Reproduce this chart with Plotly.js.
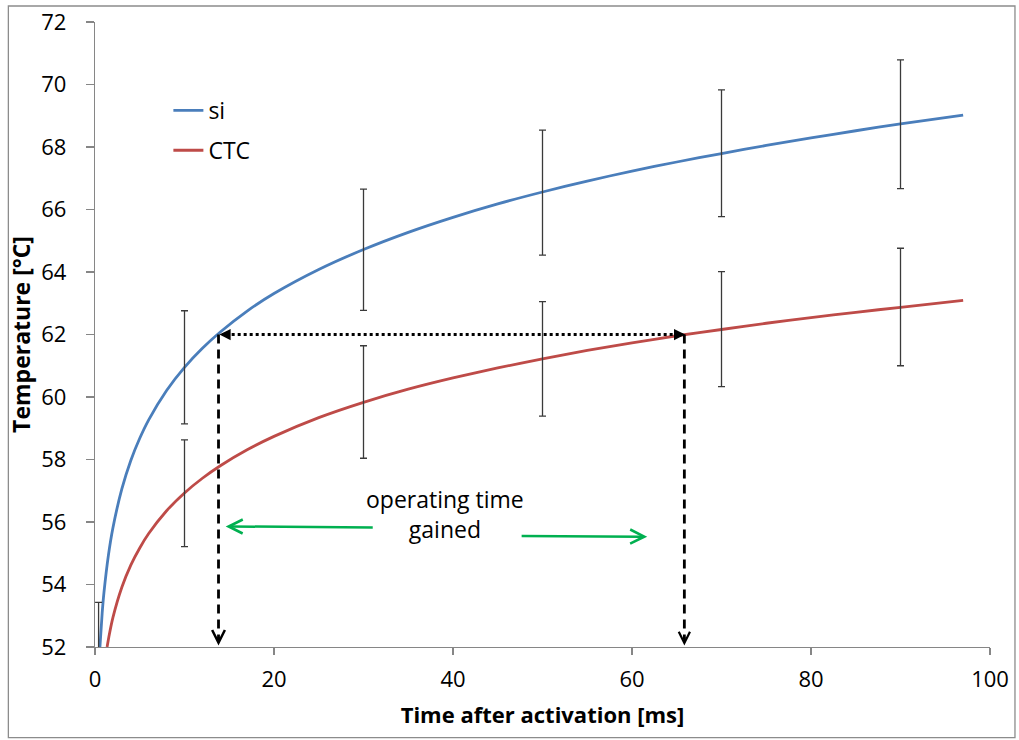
<!DOCTYPE html>
<html>
<head>
<meta charset="utf-8">
<script src="https://cdn.plot.ly/plotly-3.0.1.min.js"></script>
<style>
html,body{margin:0;padding:0;background:#fff;}
#chart{width:1019px;height:740px;}
</style>
</head>
<body>
<div id="chart"></div>
<script>
// Trend curves
var siX  = [0.55, 0.8, 1, 1.5, 2, 3, 4, 5, 6, 8, 10, 12, 14, 17, 20, 25, 30, 35, 40, 45, 50, 55, 60, 65, 70, 75, 80, 85, 90, 97];
var siY  = [52.0, 53.08, 53.74, 54.94, 55.81, 57.06, 57.97, 58.68, 59.27, 60.21, 60.95, 61.56, 62.08, 62.75, 63.31, 64.08, 64.72, 65.27, 65.75, 66.18, 66.56, 66.91, 67.23, 67.52, 67.79, 68.05, 68.29, 68.52, 68.74, 69.02];
var ctcX = [1.35, 1.6, 2, 3, 4, 5, 6, 8, 10, 12, 14, 17, 20, 25, 30, 35, 40, 45, 50, 55, 60, 65, 70, 75, 80, 85, 90, 97];
var ctcY = [52.0, 52.40, 52.94, 53.91, 54.62, 55.17, 55.63, 56.36, 56.93, 57.40, 57.80, 58.31, 58.74, 59.34, 59.83, 60.25, 60.61, 60.93, 61.22, 61.49, 61.73, 61.96, 62.16, 62.36, 62.54, 62.71, 62.87, 63.09];

// Measured points with error bars
var siPtX  = [0.4, 10, 30, 50, 70, 90];
var siPtY  = [51.68, 60.95, 64.71, 66.54, 67.80, 68.73];
var siErr  = [1.75, 1.81, 1.94, 2.00, 2.03, 2.06];
var ctcPtX = [10, 30, 50, 70, 90];
var ctcPtY = [56.92, 59.84, 61.22, 62.17, 62.88];
var ctcErr = [1.71, 1.80, 1.83, 1.84, 1.88];

// Annotation geometry (data units)
var gainY = 62;         // temperature level of the horizontal arrow
var gainX0 = 13.8;      // si reaches 62 °C
var gainX1 = 65.85;     // CTC reaches 62 °C
var labelText = "operating time<br>gained";

var FONT = "'Open Sans', 'Liberation Sans', sans-serif";

var traces = [
  {x: siX, y: siY, type: 'scatter', mode: 'lines', name: 'si',
   line: {color: '#4A7EBB', width: 2.8, shape: 'spline', smoothing: 0.6}, legendgroup: 'a', hoverinfo: 'skip'},
  {x: ctcX, y: ctcY, type: 'scatter', mode: 'lines', name: 'CTC',
   line: {color: '#BE4B48', width: 2.8, shape: 'spline', smoothing: 0.6}, legendgroup: 'b', hoverinfo: 'skip'},
  {x: siPtX, y: siPtY, type: 'scatter', mode: 'markers', showlegend: false,
   marker: {size: 1, opacity: 0},
   error_y: {type: 'data', array: siErr, visible: true, color: '#3a3a3a', thickness: 1.3, width: 3.5}},
  {x: ctcPtX, y: ctcPtY, type: 'scatter', mode: 'markers', showlegend: false,
   marker: {size: 1, opacity: 0},
   error_y: {type: 'data', array: ctcErr, visible: true, color: '#3a3a3a', thickness: 1.3, width: 3.5}}
];

var shapes = [
  // outer chart border
  {type: 'rect', xref: 'paper', yref: 'paper', x0: -0.0968, x1: 1.0279, y0: -0.145, y1: 1.0256,
   line: {color: '#8c8c8c', width: 1.3}, layer: 'below'},
  // dotted horizontal
  {type: 'line', xref: 'x', yref: 'y', x0: gainX0 + 0.8, x1: gainX1 - 0.8, y0: gainY, y1: gainY,
   line: {color: '#000', width: 3, dash: '3px,3px'}},
  // dashed verticals
  {type: 'line', xref: 'x', yref: 'y', x0: gainX0, x1: gainX0, y0: gainY, y1: 52.25,
   line: {color: '#000', width: 2.8, dash: '9px,6px'}},
  {type: 'line', xref: 'x', yref: 'y', x0: gainX1, x1: gainX1, y0: gainY, y1: 52.25,
   line: {color: '#000', width: 2.8, dash: '9px,6px'}}
];

var annotations = [
  // arrowheads of the dotted line
  {x: gainX0 + 0.1, y: gainY, xref: 'x', yref: 'y', ax: 10, ay: 0, text: '', showarrow: true,
   arrowhead: 2, arrowsize: 0.9, arrowwidth: 2.5, arrowcolor: '#000'},
  {x: gainX1 + 0.1, y: gainY, xref: 'x', yref: 'y', ax: -10, ay: 0, text: '', showarrow: true,
   arrowhead: 2, arrowsize: 0.9, arrowwidth: 2.5, arrowcolor: '#000'},
  // arrowheads of the dashed lines
  {x: gainX0, y: 52.05, xref: 'x', yref: 'y', ax: 0, ay: -10, text: '', showarrow: true,
   arrowhead: 5, arrowsize: 1, arrowwidth: 2.5, arrowcolor: '#000'},
  {x: gainX1, y: 52.05, xref: 'x', yref: 'y', ax: 0, ay: -10, text: '', showarrow: true,
   arrowhead: 5, arrowsize: 1, arrowwidth: 2.2, arrowcolor: '#000'},
  // green arrows
  {x: 14.6, y: 55.86, xref: 'x', yref: 'y', ax: 31.2, ay: 55.82, axref: 'x', ayref: 'y', text: '', showarrow: true,
   arrowhead: 5, arrowsize: 1.1, arrowwidth: 2.5, arrowcolor: '#00B050'},
  {x: 61.7, y: 55.53, xref: 'x', yref: 'y', ax: 47.5, ay: 55.55, axref: 'x', ayref: 'y', text: '', showarrow: true,
   arrowhead: 5, arrowsize: 1.1, arrowwidth: 2.5, arrowcolor: '#00B050'},
  // label
  {x: 39.1, y: 56.26, xref: 'x', yref: 'y', text: labelText, showarrow: false,
   font: {family: FONT, size: 23, color: '#000'}, align: 'center'}
];

var layout = {
  width: 1019, height: 740,
  margin: {l: 95, r: 29, t: 22, b: 93, pad: 0},
  paper_bgcolor: '#fff', plot_bgcolor: '#fff',
  font: {family: FONT, size: 22, color: '#000'},
  showlegend: true,
  legend: {x: 0.082, y: 0.893, xanchor: 'left', yanchor: 'top', bgcolor: 'rgba(0,0,0,0)',
           font: {family: FONT, size: 23, color: '#000'}, traceorder: 'grouped', tracegroupgap: 7,
           itemwidth: 30},
  xaxis: {range: [0, 100], dtick: 20, tick0: 0, showgrid: false, zeroline: false,
          showline: true, linecolor: '#868686', linewidth: 1.2,
          ticks: 'outside', ticklen: 7, tickcolor: '#868686', tickwidth: 1.2,
          ticklabelstandoff: 5, tickfont: {family: FONT, size: 22, color: '#000'},
          title: {text: '<b>Time after activation [ms]</b>', font: {family: FONT, size: 22, color: '#000'}, standoff: 16}},
  yaxis: {range: [52, 72], dtick: 2, tick0: 52, showgrid: false, zeroline: false,
          showline: true, linecolor: '#868686', linewidth: 1.2,
          ticks: 'outside', ticklen: 8, tickcolor: '#868686', tickwidth: 1.2,
          ticklabelstandoff: 15, tickfont: {family: FONT, size: 22, color: '#000'},
          title: {text: '<b>Temperature [°C]</b>', font: {family: FONT, size: 23, color: '#000'}, standoff: 4}},
  shapes: shapes,
  annotations: annotations
};

Plotly.newPlot('chart', traces, layout, {displayModeBar: false, staticPlot: true});
</script>
</body>
</html>
